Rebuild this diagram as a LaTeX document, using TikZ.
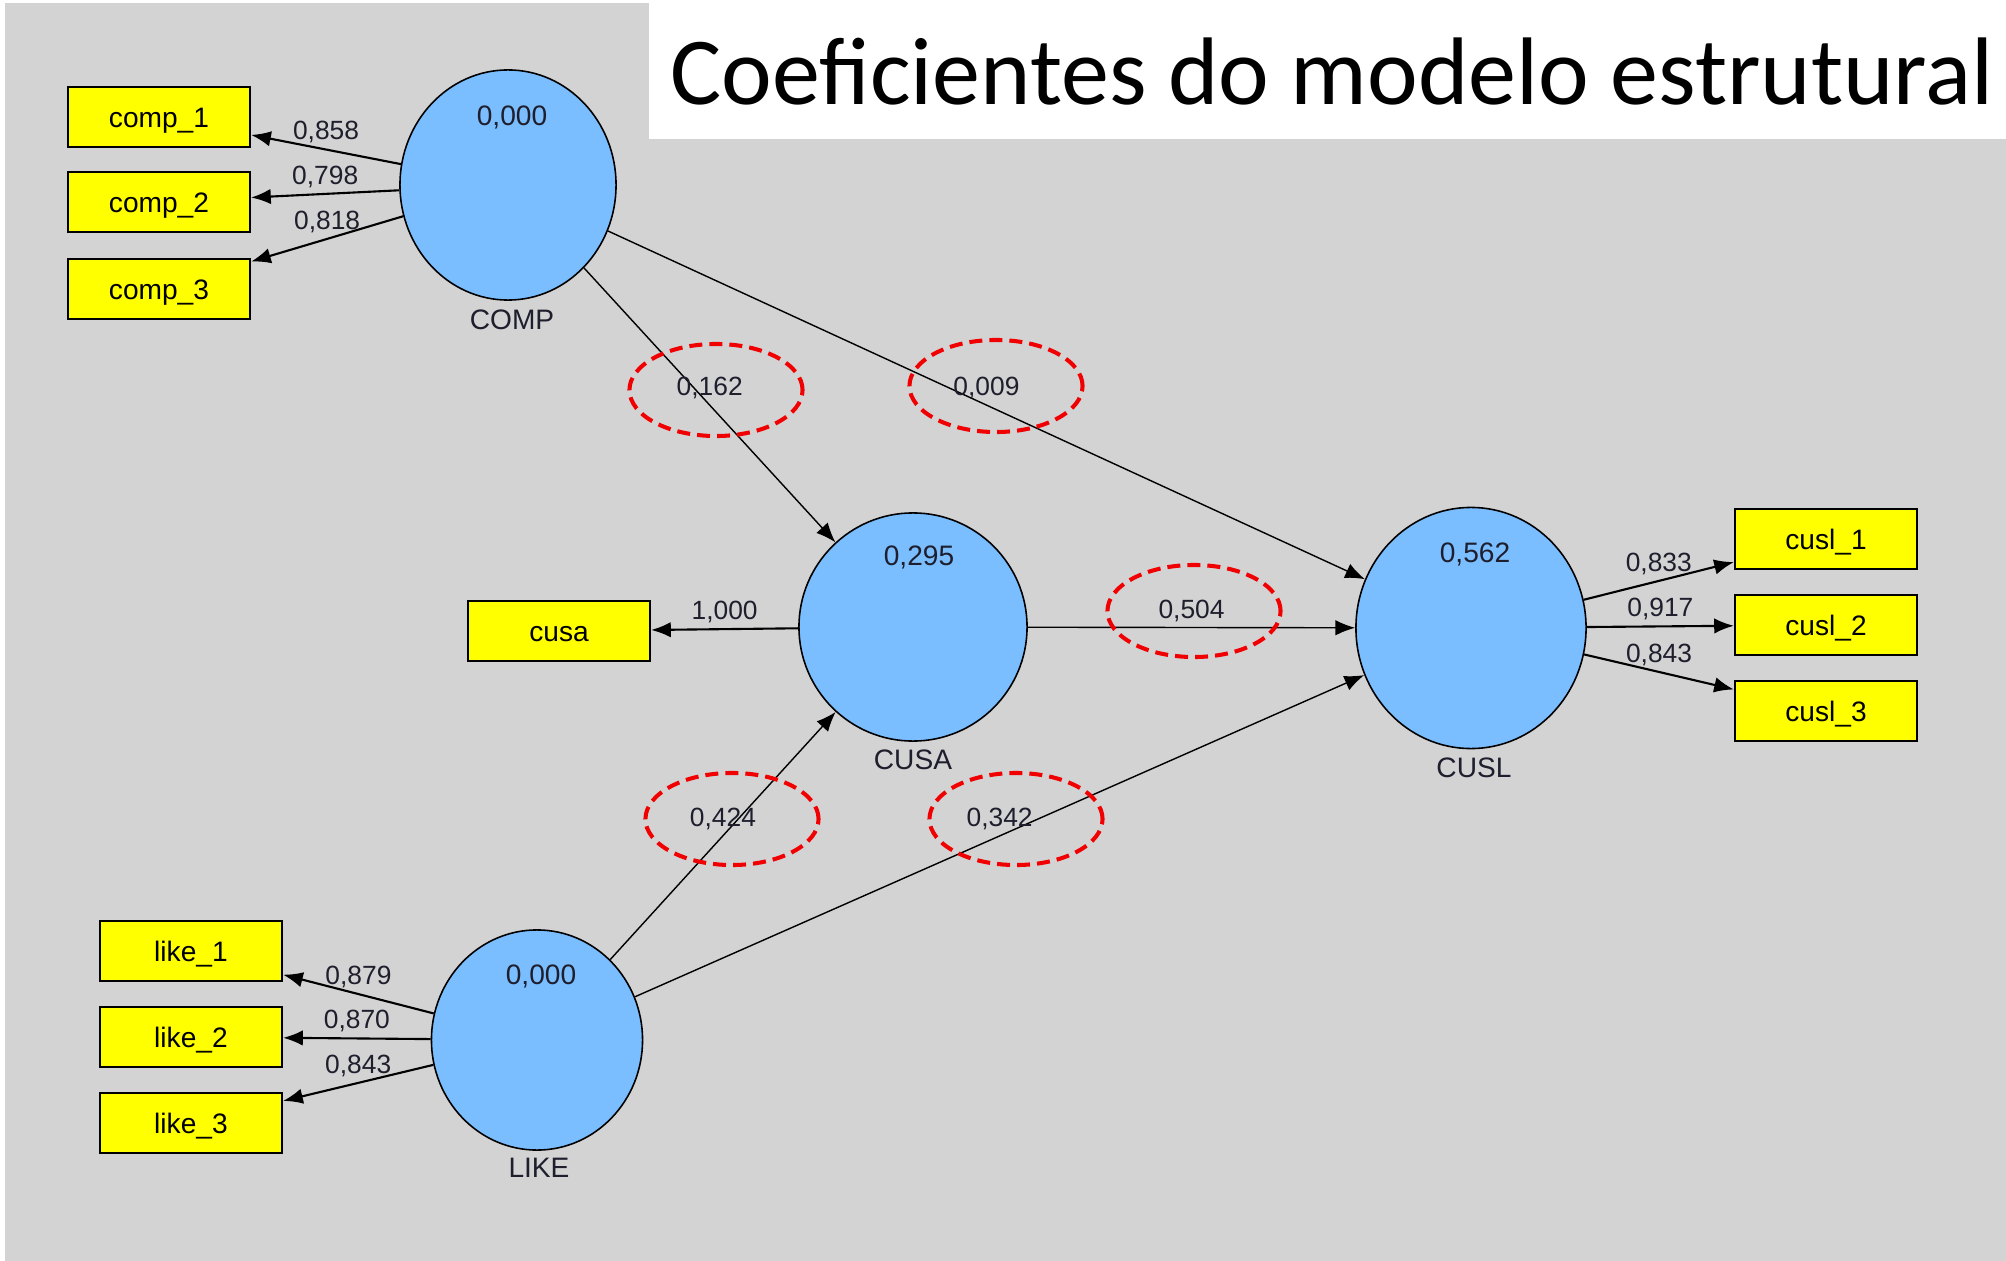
\documentclass[tikz,border=0pt]{standalone}
\usepackage{fontspec}
\setmainfont{Liberation Sans}
\newfontfamily\titlefont{Carlito}
\usetikzlibrary{shapes.geometric,arrows.meta}
\definecolor{canvas}{RGB}{211,211,211}
\definecolor{lvblue}{RGB}{122,190,255}
\definecolor{mvyellow}{RGB}{255,255,0}
\definecolor{hlred}{RGB}{240,0,0}
\definecolor{ink}{RGB}{30,30,45}
\begin{document}
\begin{tikzpicture}[x=0.01cm,y=-0.01cm,
  every path/.style={>={Latex[length=5.6pt,width=4.4pt]}},
  lv/.style={draw,ellipse,fill=lvblue,line width=0.45pt,inner sep=0pt},
  mv/.style={draw,rectangle,fill=mvyellow,line width=0.6pt,minimum width=1.82cm,minimum height=0.6cm,inner sep=0pt,text height=5.9pt,text depth=0pt,font=\fontsize{8}{9}\selectfont},
  txt/.style={inner sep=0pt,text=ink,font=\fontsize{8}{9}\selectfont},
  load/.style={midway,above,inner sep=1.5pt,text=ink,font=\fontsize{7.5}{9}\selectfont},
  loadarrow/.style={->,line width=0.6pt},
  patharrow/.style={->,line width=0.4pt},
  hl/.style={draw=hlred,ellipse,line width=1.15pt,dash pattern=on 3.7pt off 2pt,minimum width=1.73cm,minimum height=0.92cm}]
\useasboundingbox (0,0) rectangle (2006,1261);
\fill[white]  (0,0) rectangle (2006,1261);
\fill[canvas] (5,3) rectangle (2006,1261);
\fill[white]  (649,3) rectangle (2006,139);
\node[anchor=base west,inner sep=0pt,font=\titlefont\fontsize{27.3}{30}\selectfont] (title) at (670,105) {Coeficientes do modelo estrutural};

% latent variables
\node[lv,minimum width=2.16cm,minimum height=2.30cm] (comp) at (508,185)  {};
\node[lv,minimum width=2.28cm,minimum height=2.28cm] (cusa) at (913,627)  {};
\node[lv,minimum width=2.30cm,minimum height=2.41cm] (cusl) at (1471,628) {};
\node[lv,minimum width=2.11cm,minimum height=2.20cm] (like) at (537,1040) {};
\node[txt] (compR) at (512,117)  {0,000};
\node[txt] (cusaR) at (919,557)  {0,295};
\node[txt] (cuslR) at (1475,554) {0,562};
\node[txt] (likeR) at (541,976)  {0,000};
\node[txt] (compN) at (512,320)  {COMP};
\node[txt] (cusaN) at (913,760)  {CUSA};
\node[txt] (cuslN) at (1474,768) {CUSL};
\node[txt] (likeN) at (539,1168) {LIKE};

% indicators
\node[mv] (comp1) at (159,117)  {comp\_1};
\node[mv] (comp2) at (159,202)  {comp\_2};
\node[mv] (comp3) at (159,289)  {comp\_3};
\node[mv] (cusaI) at (559,631)  {cusa};
\node[mv] (cusl1) at (1826,539) {cusl\_1};
\node[mv] (cusl2) at (1826,625) {cusl\_2};
\node[mv] (cusl3) at (1826,711) {cusl\_3};
\node[mv] (like1) at (191,951)  {like\_1};
\node[mv] (like2) at (191,1037) {like\_2};
\node[mv] (like3) at (191,1123) {like\_3};

% loadings
\draw[loadarrow] (comp) -- node[load] (lc1) {0,858} (comp1);
\draw[loadarrow] (comp) -- node[load] (lc2) {0,798} (comp2);
\draw[loadarrow] (comp) -- node[load] (lc3) {0,818} (comp3);
\draw[loadarrow] (cusa) -- node[load] (lca) {1,000} (cusaI);
\draw[loadarrow] (cusl) -- node[load] (ls1) {0,833} (cusl1);
\draw[loadarrow] (cusl) -- node[load] (ls2) {0,917} (cusl2);
\draw[loadarrow] (cusl) -- node[load] (ls3) {0,843} (cusl3);
\draw[loadarrow] (like) -- node[load] (lk1) {0,879} (like1);
\draw[loadarrow] (like) -- node[load] (lk2) {0,870} (like2);
\draw[loadarrow] (like) -- node[load] (lk3) {0,843} (like3);

% structural paths
\draw[patharrow] (comp) -- node[load] (p1) {0,162} (cusa);
\draw[patharrow] (comp) -- node[load] (p2) {0,009} (cusl);
\draw[patharrow] (cusa) -- node[load] (p3) {0,504} (cusl);
\draw[patharrow] (like) -- node[load] (p4) {0,424} (cusa);
\draw[patharrow] (like) -- node[load] (p5) {0,342} (cusl);

% highlights
\node[hl] (h1) at (716,390)  {};
\node[hl] (h2) at (996,386)  {};
\node[hl] (h3) at (1194,611) {};
\node[hl] (h4) at (732,819)  {};
\node[hl] (h5) at (1016,819) {};
\end{tikzpicture}
\end{document}
